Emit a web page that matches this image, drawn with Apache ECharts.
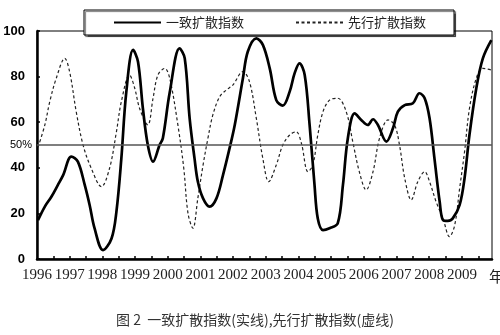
<!DOCTYPE html>
<html>
<head>
<meta charset="utf-8">
<script src="https://cdn.jsdelivr.net/npm/echarts@6/dist/echarts.min.js"></script>
<style>
  html, body { margin: 0; padding: 0; background: #fff; }
  #chart { width: 500px; height: 335px; }
</style>
</head>
<body>
<div id="chart"></div>
<script>
// Coincident diffusion index (solid line): decimal year and index value
const coincidentYears = [
  1996.03, 1996.24, 1996.44, 1996.64, 1996.80, 1997.05, 1997.25, 1997.46, 1997.61, 1997.76,
  1998.02, 1998.28, 1998.43, 1998.58, 1998.73, 1998.94, 1999.09, 1999.24, 1999.39, 1999.55,
  1999.75, 1999.85, 2000.06, 2000.36, 2000.52, 2000.67, 2000.82, 2000.92, 2001.08, 2001.28,
  2001.49, 2001.69, 2001.89, 2002.05, 2002.30, 2002.45, 2002.71, 2002.91, 2003.12, 2003.32,
  2003.52, 2003.73, 2003.88, 2004.03, 2004.19, 2004.34, 2004.49, 2004.59, 2004.75, 2004.95,
  2005.20, 2005.36, 2005.51, 2005.72, 2005.92, 2006.12, 2006.28, 2006.43, 2006.69, 2006.89,
  2007.04, 2007.25, 2007.50, 2007.70, 2007.86, 2008.01, 2008.16, 2008.32, 2008.42, 2008.57,
  2008.72, 2008.93, 2009.08, 2009.23, 2009.44, 2009.64, 2009.90
];
const coincidentValues = [
  17, 23, 27.3, 32.5, 36.8, 44.9, 42.7, 32.5, 23.7, 13.5,
  3.9, 9, 20.8, 44, 73, 91.7, 86.5, 66, 50, 42.7,
  50, 53, 73, 92.4, 88, 61.7, 44, 34, 26.6, 23,
  26.6, 36.8, 48.5, 58.8, 79.3, 91, 96.8, 93.9, 83.6, 69.7,
  67.3, 73.4, 81.4, 85.8, 80.7, 58.8, 32.5, 17.8, 12.7, 13.5,
  15.6, 32.5, 53, 63.9, 61, 58.8, 61.3, 58.8, 51.5, 57.3,
  64.6, 67.5, 68.3, 72.7, 70.5, 61.7, 44, 25, 17.1, 16.7,
  17.8, 23.7, 35.4, 54.4, 74.9, 88, 96
];

// Leading diffusion index (dashed line)
const leadingYears = [
  1996.03, 1996.24, 1996.39, 1996.59, 1996.85, 1997.00, 1997.20, 1997.41, 1997.66, 1997.97,
  1998.22, 1998.43, 1998.58, 1998.83, 1998.99, 1999.14, 1999.39, 1999.55, 1999.70, 1999.91,
  2000.06, 2000.31, 2000.49, 2000.62, 2000.77, 2000.92, 2001.08, 2001.23, 2001.38, 2001.59,
  2001.79, 2001.99, 2002.30, 2002.50, 2002.71, 2002.91, 2003.09, 2003.32, 2003.52, 2003.73,
  2003.93, 2004.09, 2004.29, 2004.44, 2004.59, 2004.75, 2004.95, 2005.20, 2005.46, 2005.66,
  2005.86, 2006.07, 2006.28, 2006.48, 2006.74, 2006.94, 2007.09, 2007.25, 2007.45, 2007.65,
  2007.86, 2008.01, 2008.21, 2008.42, 2008.62, 2008.78, 2008.93, 2009.08, 2009.23, 2009.44,
  2009.64, 2009.90
];
const leadingValues = [
  49, 58.8, 69, 79.3, 88, 82, 64.6, 50, 39.8, 31.7,
  39.8, 55.8, 69, 80.7, 74.9, 66, 58.8, 70.5, 80.7, 83.6,
  79.3, 58.8, 39.8, 20, 13.5, 26.6, 41.2, 53, 63.2, 71.2,
  74.1, 76.3, 82.2, 77.8, 61.7, 44, 33.9, 41.2, 50, 54.4,
  55.8, 50.7, 38.3, 41.2, 54.4, 64.6, 69.7, 70.5, 64.6, 51.5,
  38.3, 30.3, 38.3, 53, 61, 58.8, 50, 35.4, 25.9, 33.9,
  38.3, 33.9, 25.1, 17.8, 9.8, 14.9, 31, 47, 66, 79.3,
  83.6, 82.9
];

// Axis labels and the 50% reference level
const yearLabels = [1996, 1997, 1998, 1999, 2000, 2001, 2002, 2003, 2004, 2005, 2006, 2007, 2008, 2009];
const referenceLevel = 50;
const seriesNames = ['一致扩散指数', '先行扩散指数'];
const captionText = '图 2  一致扩散指数(实线),先行扩散指数(虚线)';

const zip = (xs, ys) => xs.map((x, i) => [x, ys[i]]);

// half-year tick marks between the year labels
const halfYearTicks = [];
for (let k = 1; k <= 27; k++) halfYearTicks.push(1996 + k * 0.5);

const chart = echarts.init(document.getElementById('chart'), null, { renderer: 'canvas' });

chart.setOption({
  animation: false,
  backgroundColor: '#fff',
  grid: {
    left: 37, right: 8, top: 31, bottom: 76,
    show: true, borderColor: '#000', borderWidth: 1, backgroundColor: 'transparent'
  },
  legend: {
    left: 84, top: 10,
    padding: [6, 28, 6, 29],
    itemGap: 51,
    itemWidth: 47,
    itemHeight: 14,
    backgroundColor: '#fff',
    borderColor: '#000',
    borderWidth: 1,
    shadowColor: 'rgba(0,0,0,0.55)',
    shadowOffsetX: 1.5,
    shadowOffsetY: 1.5,
    shadowBlur: 1,
    // only the line sample is shown, no marker on it
    itemStyle: { color: 'transparent', borderColor: 'transparent', borderWidth: 0, opacity: 0 },
    textStyle: { fontFamily: 'Noto Sans CJK SC', fontSize: 13, color: '#222' },
    data: seriesNames
  },
  xAxis: {
    type: 'value',
    min: 1996,
    max: 2009.92,
    axisLine: { lineStyle: { color: '#000', width: 2.5 } },
    axisTick: { inside: true, length: 3, lineStyle: { color: '#000', width: 1.5 }, customValues: halfYearTicks },
    axisLabel: {
      customValues: yearLabels,
      formatter: v => String(Math.round(v)),
      fontFamily: 'Liberation Serif',
      fontSize: 15,
      color: '#222',
      margin: 9
    },
    splitLine: { show: false }
  },
  yAxis: {
    type: 'value',
    min: 0, max: 100, interval: 20,
    axisLine: { show: true, lineStyle: { color: '#000', width: 2.5 } },
    axisTick: { show: true, inside: true, length: 3, lineStyle: { color: '#000', width: 1.5 } },
    axisLabel: {
      fontFamily: 'Liberation Sans', fontWeight: 'bold', fontSize: 13, color: '#000', margin: 12
    },
    splitLine: { show: false }
  },
  series: [
    {
      name: seriesNames[0],
      type: 'line',
      data: zip(coincidentYears, coincidentValues),
      smooth: 0.35,
      symbol: 'none',
      z: 3,
      lineStyle: { color: '#000', width: 2.7 },
      itemStyle: { color: '#000' },
      markLine: {
        silent: true,
        symbol: ['none', 'none'],
        lineStyle: { color: '#555', width: 1.5, type: 'solid' },
        label: {
          position: 'start', formatter: '50%', distance: 5,
          fontFamily: 'Liberation Sans', fontSize: 11, color: '#000'
        },
        data: [{ yAxis: referenceLevel }]
      }
    },
    {
      name: seriesNames[1],
      type: 'line',
      data: zip(leadingYears, leadingValues),
      smooth: 0.35,
      symbol: 'none',
      z: 2,
      lineStyle: { color: '#222', width: 1.2, type: [3, 2.5] },
      itemStyle: { color: '#222' }
    }
  ],
  graphic: [
    {
      type: 'text', left: 489, top: 269,
      style: { text: '年', font: '15px "Noto Sans CJK SC"', fill: '#222' }
    },
    {
      type: 'text', x: 255, y: 320,
      style: {
        text: captionText, font: '14px "Noto Sans CJK SC"', fill: '#333',
        textAlign: 'center', textVerticalAlign: 'middle'
      }
    }
  ]
});
</script>
</body>
</html>
